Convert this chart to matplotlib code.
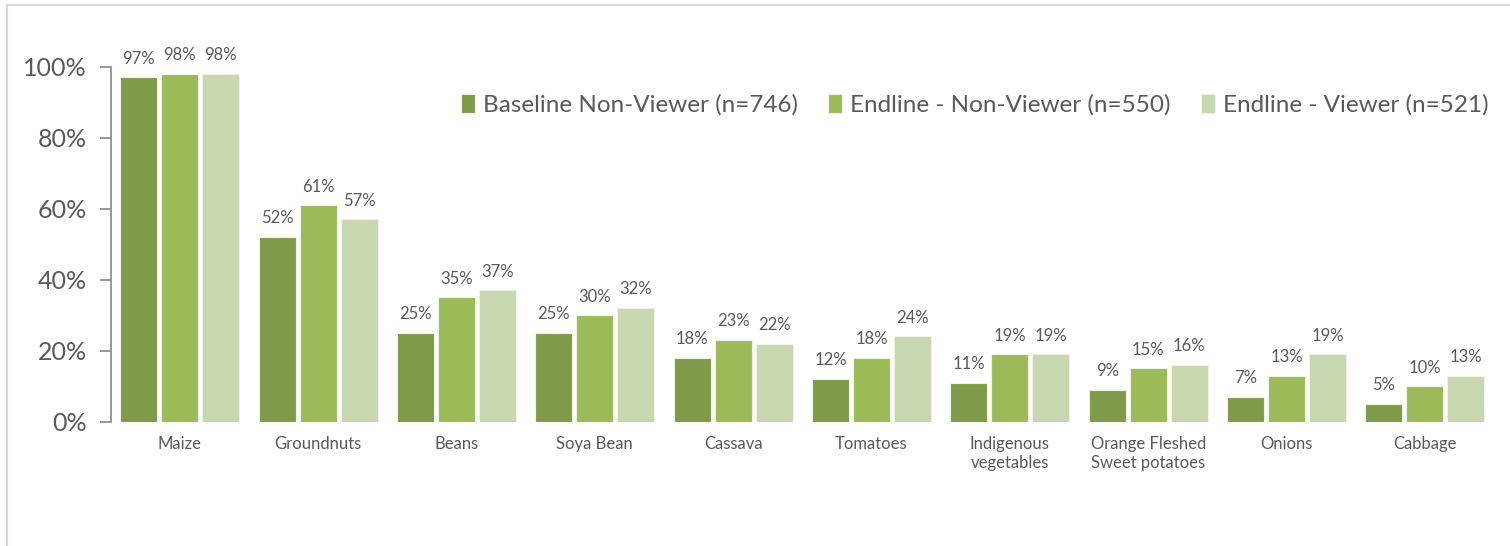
import matplotlib
matplotlib.use("Agg")
import matplotlib.pyplot as plt
import numpy as np
from matplotlib.patches import Rectangle

categories = ["Maize", "Groundnuts", "Beans", "Soya Bean", "Cassava", "Tomatoes",
              "Indigenous\nvegetables", "Orange Fleshed\nSweet potatoes", "Onions", "Cabbage"]
series_names = ["Baseline Non-Viewer (n=746)", "Endline - Non-Viewer (n=550)",
                "Endline - Viewer (n=521)"]
baseline_non_viewer = [97, 52, 25, 25, 18, 12, 11, 9, 7, 5]
endline_non_viewer = [98, 61, 35, 30, 23, 18, 19, 15, 13, 10]
endline_viewer = [98, 57, 37, 32, 22, 24, 19, 16, 19, 13]
colors = ["#7F9A48", "#9BBB59", "#C8D7AF"]
text_color = "#595959"

plt.rcParams["font.family"] = ["Lato", "DejaVu Sans"]

fig = plt.figure(figsize=(15.10, 5.46), dpi=100)
ax = fig.add_axes([0.0733, 0.2277, 0.9161, 0.6501])

# outer frame
fig.patches.append(Rectangle((7 / 1510, -0.01), 1.0, 1.0 - 5 / 546 + 0.01,
                             transform=fig.transFigure, fill=False,
                             edgecolor="#D9D9D9", linewidth=1.5))

x = np.arange(len(categories))
step = 0.296
width = 0.268
for i, (vals, name, col) in enumerate(zip([baseline_non_viewer, endline_non_viewer, endline_viewer],
                                          series_names, colors)):
    pos = x + (i - 1) * step
    bars = ax.bar(pos, np.array(vals) / 100.0, width=width, color=col, label=name,
                  edgecolor="#EEF3E6", linewidth=0.8)
    for b, v in zip(bars, vals):
        ax.text(b.get_x() + b.get_width() / 2, b.get_height() + 0.03, f"{v}%",
                ha="center", va="bottom", fontsize=12, color=text_color, clip_on=False)

ax.set_xlim(-0.5, len(categories) - 0.5)
ax.set_ylim(0, 1.0)
ax.set_yticks([0, 0.2, 0.4, 0.6, 0.8, 1.0])
ax.set_yticklabels(["0%", "20%", "40%", "60%", "80%", "100%"], fontsize=18, color=text_color)
ax.set_xticks(x)
ax.set_xticklabels(categories, fontsize=12, color=text_color, va="top", linespacing=1.3)
ax.tick_params(axis="x", length=0, pad=10)
ax.tick_params(axis="y", length=8, width=1.2, color="#868686", pad=9, direction="out")

for s in ["top", "right", "bottom"]:
    ax.spines[s].set_visible(False)
ax.spines["left"].set_color("#868686")
ax.spines["left"].set_linewidth(1.2)

leg = ax.legend(loc="upper right", bbox_to_anchor=(1.012, 0.985), ncol=3, frameon=False,
                fontsize=17.5, handlelength=0.55, handleheight=0.85, handletextpad=0.35,
                columnspacing=1.25, labelcolor=text_color)

fig.savefig("out.png", dpi=100)
